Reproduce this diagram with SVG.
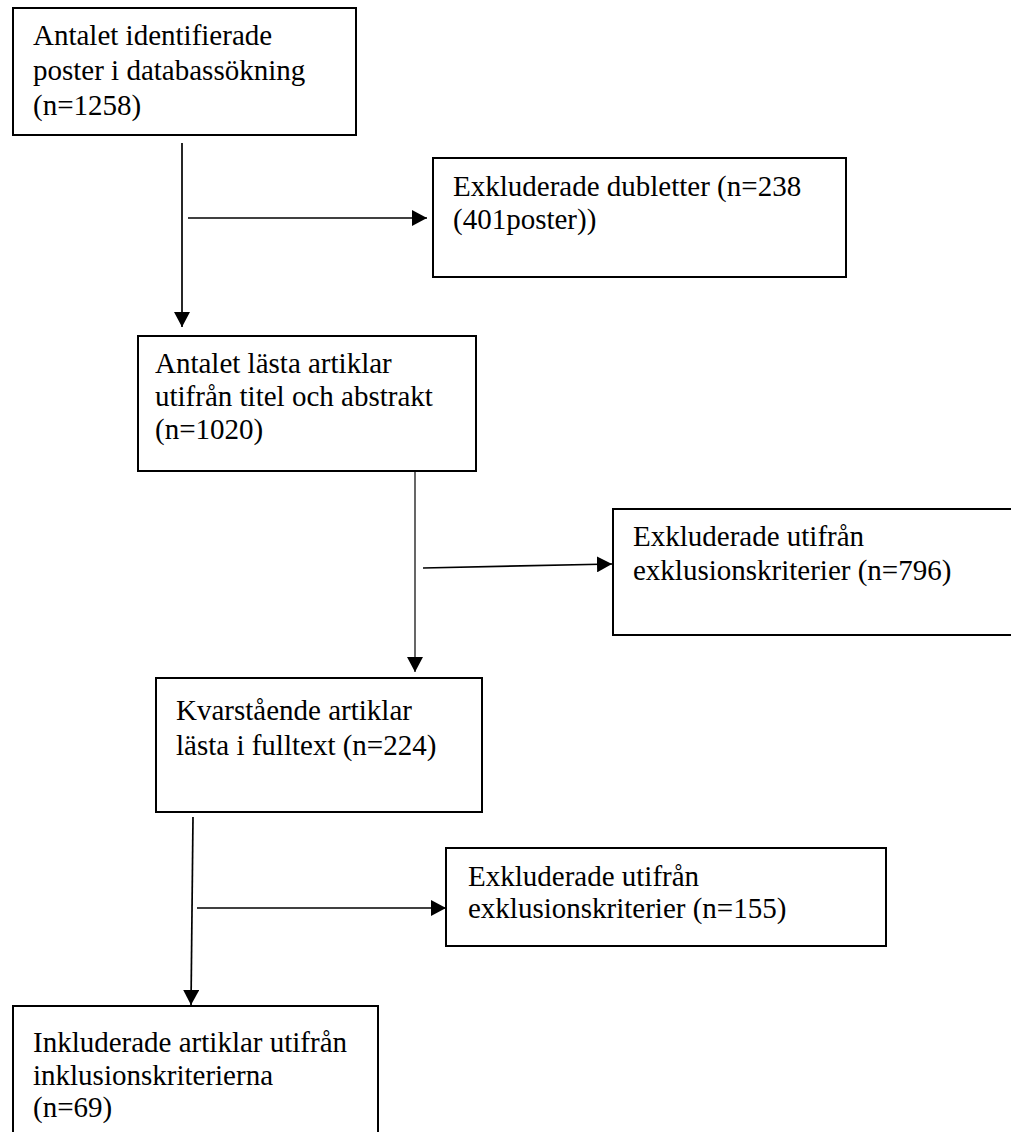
<svg xmlns="http://www.w3.org/2000/svg" width="1011" height="1132" viewBox="0 0 1011 1132">
  <defs>
    <style>
      .box { fill: #ffffff; stroke: #000000; stroke-width: 2; }
      .lbl { font-family: "Liberation Serif", "Times New Roman", serif; font-size: 29px; fill: #000000; }
      .conn { fill: none; stroke: #000000; stroke-width: 1.7; }
    </style>
    <marker id="arrow" markerUnits="userSpaceOnUse" markerWidth="16" markerHeight="16" refX="15" refY="8" orient="auto">
      <path d="M0,0 L15,8 L0,16 z" fill="#000000"/>
    </marker>
  </defs>
  <rect width="1011" height="1132" fill="#ffffff"/>

  <g id="connectors">
    <line class="conn" x1="182" y1="143" x2="182" y2="327" marker-end="url(#arrow)"/>
    <line class="conn" x1="188" y1="218" x2="427" y2="218" marker-end="url(#arrow)"/>
    <line class="conn" x1="415" y1="471" x2="415" y2="672" marker-end="url(#arrow)" style="stroke-width:1.2"/>
    <line class="conn" x1="423" y1="568" x2="612" y2="564" marker-end="url(#arrow)"/>
    <line class="conn" x1="193" y1="817" x2="191" y2="1005" marker-end="url(#arrow)"/>
    <line class="conn" x1="197" y1="908" x2="446" y2="908" marker-end="url(#arrow)"/>
  </g>

  <g id="node-identified">
    <rect class="box" x="13" y="8" width="343" height="127"/>
    <text class="lbl" x="33" y="45">Antalet identifierade</text>
    <text class="lbl" x="33" y="80">poster i databassökning</text>
    <text class="lbl" x="33" y="115">(n=1258)</text>
  </g>

  <g id="node-duplicates">
    <rect class="box" x="433" y="158" width="413" height="119"/>
    <text class="lbl" x="453" y="196">Exkluderade dubletter (n=238</text>
    <text class="lbl" x="453" y="229">(401poster))</text>
  </g>

  <g id="node-screened">
    <rect class="box" x="138" y="336" width="338" height="135"/>
    <text class="lbl" x="155" y="373">Antalet lästa artiklar</text>
    <text class="lbl" x="155" y="406">utifrån titel och abstrakt</text>
    <text class="lbl" x="155" y="439">(n=1020)</text>
  </g>

  <g id="node-excluded-796">
    <rect class="box" x="613" y="509" width="410" height="126"/>
    <text class="lbl" x="633" y="546">Exkluderade utifrån</text>
    <text class="lbl" x="633" y="580">exklusionskriterier (n=796)</text>
  </g>

  <g id="node-fulltext">
    <rect class="box" x="156" y="678" width="326" height="134"/>
    <text class="lbl" x="176" y="720">Kvarstående artiklar</text>
    <text class="lbl" x="176" y="755">lästa i fulltext (n=224)</text>
  </g>

  <g id="node-excluded-155">
    <rect class="box" x="446" y="848" width="440" height="98"/>
    <text class="lbl" x="468" y="886">Exkluderade utifrån</text>
    <text class="lbl" x="468" y="918">exklusionskriterier (n=155)</text>
  </g>

  <g id="node-included">
    <rect class="box" x="13" y="1006" width="365" height="140"/>
    <text class="lbl" x="33" y="1052">Inkluderade artiklar utifrån</text>
    <text class="lbl" x="33" y="1085">inklusionskriterierna</text>
    <text class="lbl" x="33" y="1117">(n=69)</text>
  </g>
</svg>
